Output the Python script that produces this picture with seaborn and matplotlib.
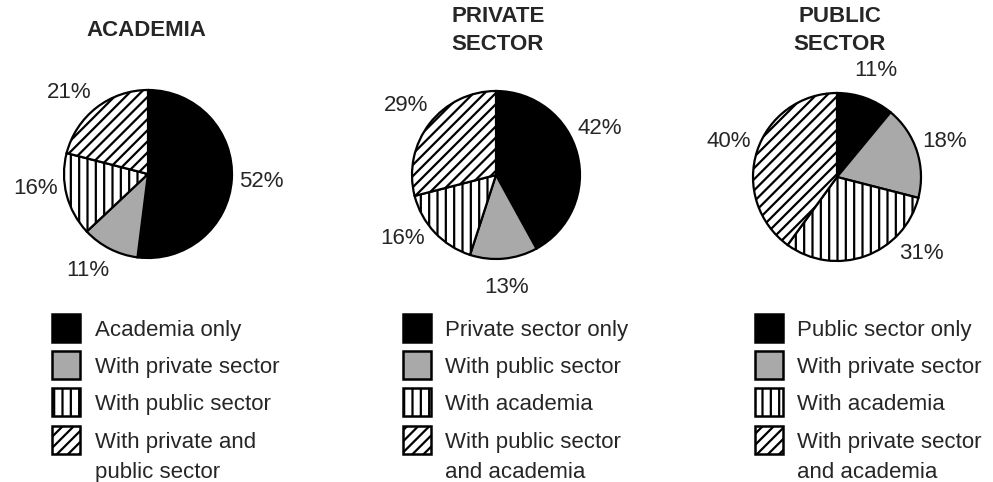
import numpy as np
import matplotlib
matplotlib.use("Agg")
import matplotlib.pyplot as plt
from matplotlib.patches import Rectangle
import seaborn as sns

sns.set_style("white")
plt.rcParams['font.family'] = ['Liberation Sans', 'DejaVu Sans']
plt.rcParams['hatch.linewidth'] = 1.6

# data (percent of collaborations)
titles = ["ACADEMIA", "PRIVATE\nSECTOR", "PUBLIC\nSECTOR"]
academia = [52, 11, 16, 21]
private_sector = [42, 13, 16, 29]
public_sector = [11, 18, 31, 40]
academia_labels = ["Academia only", "With private sector", "With public sector",
                   "With private and\npublic sector"]
private_labels = ["Private sector only", "With public sector", "With academia",
                  "With public sector\nand academia"]
public_labels = ["Public sector only", "With private sector", "With academia",
                 "With private sector\nand academia"]

# wedge styles: solid black, gray, vertical lines, diagonal lines
faces = ["black", "#a9a9a9", "white", "white"]
hatches = [None, None, "||", "///"]

W, H = 993, 482
fig = plt.figure(figsize=(W / 100, H / 100), dpi=100)

# layout in pixels: pie centre, title x, legend square x, legend text x
centers = [(148, 174), (496, 175), (837, 177)]
title_x = [146, 498, 840]
sq_x = [52, 403, 755]
txt_x = [95, 445, 797]
r = 84
fs = 16
# small angle nudges (degrees, counter-clockwise) for a few percent labels
nudge = [[0, -5, -7, 6], [10, 0, -9, 0], [0, 0, 28, 0]]

all_vals = [academia, private_sector, public_sector]
all_labels = [academia_labels, private_labels, public_labels]

for k in range(3):
    cx, cy = centers[k]
    ax = fig.add_axes([(cx - r) / W, (H - cy - r) / H, 2 * r / W, 2 * r / H])
    vals = all_vals[k]
    wedges, _ = ax.pie(vals, startangle=90, counterclock=False, colors=faces,
                       wedgeprops=dict(edgecolor="black", linewidth=1.6))
    for w, h in zip(wedges, hatches):
        if h:
            w.set_hatch(h)
        w.set_clip_on(False)
    ax.set_xlim(-1, 1)
    ax.set_ylim(-1, 1)
    ax.set_aspect("equal")
    ax.axis("off")

    # percent labels outside each wedge
    for i, w in enumerate(wedges):
        ang = np.deg2rad((w.theta1 + w.theta2) / 2 + nudge[k][i])
        ax.text(1.35 * np.cos(ang), 1.35 * np.sin(ang), f"{vals[i]}%",
                ha="center", va="center", fontsize=fs, clip_on=False)

    # title, one text per line
    tl = titles[k].split("\n")
    y0 = 30 if len(tl) == 1 else 16
    for j, line in enumerate(tl):
        fig.text(title_x[k] / W, 1 - (y0 + 28 * j) / H, line, ha="center",
                 va="center", fontsize=fs, fontweight="bold")

    # hand-made legend so the square sits on the first text line
    for i, lab in enumerate(all_labels[k]):
        yc = 328 + 37.2 * i
        sq = 28
        fig.patches.append(Rectangle((sq_x[k] / W, 1 - (yc + sq / 2) / H),
                                     sq / W, sq / H, transform=fig.transFigure,
                                     facecolor=faces[i], hatch=hatches[i],
                                     edgecolor="black", linewidth=1.8))
        for j, line in enumerate(lab.split("\n")):
            fig.text(txt_x[k] / W, 1 - (yc + 8 + 30 * j) / H, line, ha="left",
                     va="baseline", fontsize=fs)

fig.savefig("out.png", dpi=100)
